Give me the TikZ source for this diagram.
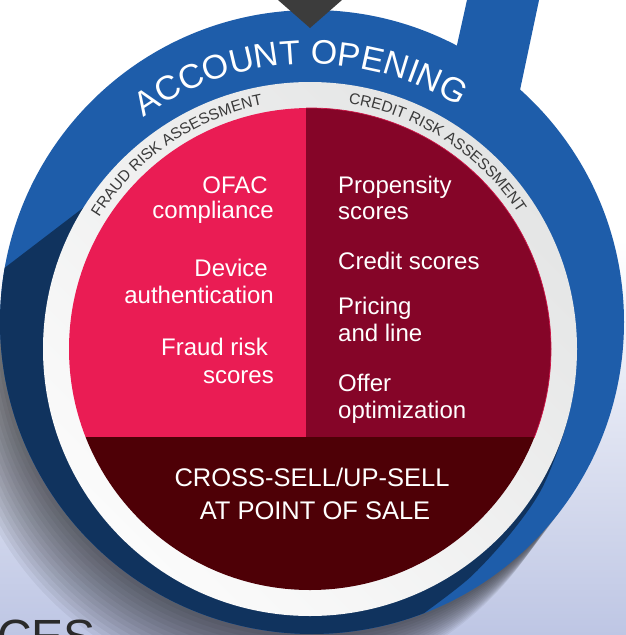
\documentclass[tikz,border=0pt]{standalone}
\usepackage{fontspec}
\setmainfont{Liberation Sans}
\usetikzlibrary{decorations.text,calc}
\definecolor{ringblue}{HTML}{1E5DAA}
\definecolor{navy}{HTML}{10335E}
\definecolor{pinkq}{HTML}{EA1C54}
\definecolor{crimq}{HTML}{850528}
\definecolor{maroonq}{HTML}{4E0006}
\definecolor{grayring}{HTML}{E4E5E5}
\definecolor{grayringlt}{HTML}{FBFBFB}
\definecolor{ringtext}{HTML}{3A3A3A}
\definecolor{lav}{HTML}{BEC6E4}
\definecolor{tri}{HTML}{3C3C3C}
\definecolor{cestext}{HTML}{2A2A2A}
\begin{document}
\begin{tikzpicture}[x=1pt,y=1pt,
  itemL/.style={text=white, anchor=base east, inner sep=0pt, font=\fontsize{24}{27}\selectfont},
  itemR/.style={text=white, anchor=base west, inner sep=0pt, font=\fontsize{24}{27}\selectfont},
  bottomtxt/.style={text=white, anchor=base, inner sep=0pt, font=\fontsize{25.5}{30}\selectfont},
]
\useasboundingbox (0,0) rectangle (626,-635);
\clip (0,0) rectangle (626,-635);
% background
\fill[white] (0,0) rectangle (626,-635);
\shade[top color=white, bottom color=lav] (0,-240) rectangle (626,-635);
% drop shadow (cast towards lower left)
\begin{scope}
  \clip (-10,-330) rectangle (636,-645);
  \foreach \i in {1,...,14}
    \fill[black, opacity=0.05] ({312-3*\i},{-322-4*\i}) circle[radius=312];
\end{scope}
% blue ring and tail
\fill[ringblue] (312,-322) circle[radius=312];
\fill[ringblue] (468.1,5) -- (540.1,5) -- (517.9,-100) -- (454.8,-55) -- cycle;
% navy shadow on ring
\begin{scope}
  \clip (312,-322) circle[radius=312];
  \fill[navy] (4.7,-267.8) arc[start angle=170, end angle=291, radius=312]
    -- plot[smooth] coordinates {(423.8,-613.3) (470,-577.5) (510.9,-533.1) (542.6,-487.1) (566.7,-422.6) (571,-371.8)}
    -- (310,-349) -- (83.6,-207.5) -- cycle;
\end{scope}
% gray ring
\shade[top color=grayring, bottom color=grayringlt, shading angle=-45] (310,-349) circle[radius=267];
% pie
\begin{scope}
  \clip (310,-349) circle[radius=241];
  \fill[pinkq] (60,-100) rectangle (306,-437);
  \fill[crimq] (306,-100) rectangle (560,-437);
  \fill[maroonq] (60,-437) rectangle (560,-600);
\end{scope}
\begin{scope}
  \clip (306,-100) rectangle (560,-437);
  \draw[pinkq!70!crimq, line width=0.7] (310,-349) circle[radius=241];
\end{scope}
% curved texts
\path[decorate, decoration={text along path, text align=center,
  text={|\fontsize{34}{34}\selectfont\color{white}|ACCOUNT OPENING}}]
  ([shift={(310,-349)}]132:285) arc[start angle=132, end angle=52, radius=285];
\path[decorate, decoration={text along path, text align=center,
  text={|\fontsize{15.5}{15.5}\selectfont\color{ringtext}|FRAUD RISK ASSESSMENT}}]
  ([shift={(310,-349)}]154.5:248.5) arc[start angle=154.5, end angle=94.5, radius=248.5];
\path[decorate, decoration={text along path, text align=center,
  text={|\fontsize{15.5}{15.5}\selectfont\color{ringtext}|CREDIT RISK ASSESSMENT}}]
  ([shift={(310,-349)}]87.1:248.5) arc[start angle=87.1, end angle=27.1, radius=248.5];
% left items
\node[itemL] (ofac) at (268,-193) {OFAC};
\node[itemL] (compl) at (274,-218.5) {compliance};
\node[itemL] (dev) at (268,-276) {Device};
\node[itemL] (auth) at (274,-303) {authentication};
\node[itemL] (frisk) at (268,-355) {Fraud risk};
\node[itemL] (fscores) at (274,-383) {scores};
% right items
\node[itemR] (prop) at (338,-193) {Propensity};
\node[itemR] (pscores) at (338,-219.5) {scores};
\node[itemR] (credit) at (338,-269) {Credit scores};
\node[itemR] (pricing) at (338,-314) {Pricing};
\node[itemR] (andline) at (338,-341.5) {and line};
\node[itemR] (offer) at (338,-391) {Offer};
\node[itemR] (optim) at (338,-418) {optimization};
% bottom
\node[bottomtxt] (cross) at (312,-486) {CROSS-SELL/UP-SELL};
\node[bottomtxt] (pos) at (315,-519) {AT POINT OF SALE};
% triangle
\fill[tri] (272.3,5) -- (347.7,5) -- (310,-28) -- cycle;
% partial text at the lower edge
\node[anchor=base west, inner sep=0pt, font=\fontsize{48}{48}\selectfont, text=cestext] (ces) at (-3,-653) {CES};
\end{tikzpicture}
\end{document}
